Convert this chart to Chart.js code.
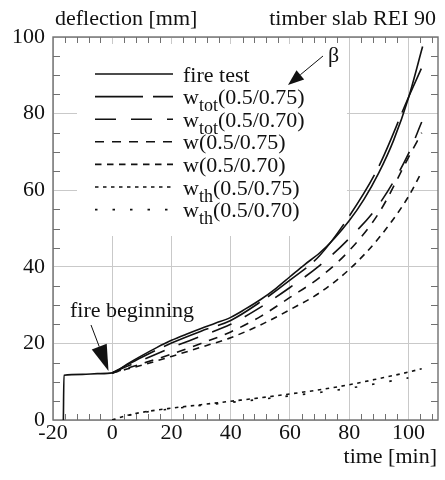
<!DOCTYPE html>
<html>
<head>
<meta charset="utf-8">
<script src="https://cdn.jsdelivr.net/npm/chart.js@4.4.1/dist/chart.umd.min.js"></script>
<style>
  html, body { margin: 0; padding: 0; background: #fff; }
  canvas { display: block; }
</style>
</head>
<body>
<canvas id="myChart" width="445" height="480"></canvas>
<script>
// fire test measurement: time [min] and deflection [mm]
const fireTime = [-16.5, -16.3, -10, -5, 0, 5, 10, 15, 20, 25, 30, 35, 40, 45, 50, 55, 60, 65, 70, 75, 80, 85, 90, 95, 100, 104.8];
const fireDefl = [0, 11.7, 11.9, 12.1, 12.3, 14.6, 16.8, 18.9, 20.8, 22.4, 23.9, 25.3, 26.8, 29.0, 31.4, 34.2, 37.4, 40.6, 43.6, 47.4, 52.0, 57.6, 64.5, 73.0, 84.0, 97.5];

// calculated curves, all on the same time grid
const modelTime = [0, 5, 10, 20, 30, 40, 50, 60, 70, 80, 90, 100, 104.5];
const wTot075 = [12.3, 14.4, 16.4, 20.1, 23.2, 26.0, 30.8, 36.5, 42.9, 53.2, 66.2, 84.2, 92.0];
const wTot070 = [12.3, 14.0, 15.6, 18.9, 21.9, 25.0, 29.4, 34.6, 40.3, 47.4, 56.2, 69.5, 77.8];
const w075 = [12.3, 13.5, 14.7, 17.2, 20.0, 23.0, 27.0, 32.0, 37.2, 44.2, 54.0, 68.5, 75.0];
const w070 = [12.3, 13.3, 14.3, 16.6, 19.0, 21.5, 24.8, 28.8, 33.2, 39.3, 47.5, 58.3, 64.8];
const wTh075 = [0, 1.2, 2.0, 3.1, 4.0, 4.9, 5.8, 6.8, 7.9, 9.2, 10.8, 12.5, 13.4];
const wTh070 = [0, 1.1, 1.9, 2.9, 3.8, 4.6, 5.4, 6.3, 7.2, 8.3, 9.6, 11.0, null];

// axis ticks and texts
const xTicks = [-20, 0, 20, 40, 60, 80, 100];
const yTicks = [0, 20, 40, 60, 80, 100];
const yTitle = 'deflection [mm]';
const xTitle = 'time [min]';
const plotTitle = 'timber slab REI 90';
const fireNote = 'fire beginning';
const betaNote = 'β';

// legend labels: [main, subscript, rest]
const seriesLabels = [
    ['fire test', '', ''],
    ['w', 'tot', '(0.5/0.75)'],
    ['w', 'tot', '(0.5/0.70)'],
    ['w', '', '(0.5/0.75)'],
    ['w', '', '(0.5/0.70)'],
    ['w', 'th', '(0.5/0.75)'],
    ['w', 'th', '(0.5/0.70)']
];

const FONT = '"Liberation Serif", "DejaVu Serif", serif';
const INK = '#111';

function toPoints(xs, ys) {
    return xs.map((x, i) => ({ x: x, y: ys[i] }));
}

function makeSet(label, xs, ys, dash) {
    return {
        label: label,
        data: toPoints(xs, ys),
        borderColor: INK,
        borderWidth: 1.6,
        borderDash: dash,
        pointRadius: 0,
        fill: false,
        cubicInterpolationMode: 'monotone',
        spanGaps: false
    };
}

// draws an arrow with a filled head
function arrow(ctx, x1, y1, x2, y2, headLen, headHalf) {
    const dx = x2 - x1, dy = y2 - y1;
    const len = Math.sqrt(dx * dx + dy * dy);
    const ux = dx / len, uy = dy / len;
    const bx = x2 - ux * headLen, by = y2 - uy * headLen;
    ctx.beginPath();
    ctx.moveTo(x1, y1);
    ctx.lineTo(bx, by);
    ctx.stroke();
    ctx.beginPath();
    ctx.moveTo(x2, y2);
    ctx.lineTo(bx - uy * headHalf, by + ux * headHalf);
    ctx.lineTo(bx + uy * headHalf, by - ux * headHalf);
    ctx.closePath();
    ctx.fill();
}

// white legend box, frame and small inner ticks
const framePlugin = {
    id: 'frame',
    beforeDatasetsDraw(chart) {
        const ctx = chart.ctx;
        const a = chart.chartArea;
        const xs = chart.scales.x, ys = chart.scales.y;
        ctx.save();
        ctx.fillStyle = '#fff';
        ctx.fillRect(77, 44, 270, 192);

        ctx.strokeStyle = '#707070';
        ctx.lineWidth = 1;
        ctx.beginPath();
        for (let t = -20; t <= 110; t += 4) {
            if (t % 20 === 0) continue;
            const px = Math.round(xs.getPixelForValue(t)) + 0.5;
            ctx.moveTo(px, a.bottom);
            ctx.lineTo(px, a.bottom - 6);
            ctx.moveTo(px, a.top);
            ctx.lineTo(px, a.top + 6);
        }
        for (let v = 0; v <= 100; v += 5) {
            if (v % 20 === 0) continue;
            const py = Math.round(ys.getPixelForValue(v)) + 0.5;
            ctx.moveTo(a.left, py);
            ctx.lineTo(a.left + 7, py);
            ctx.moveTo(a.right, py);
            ctx.lineTo(a.right - 7, py);
        }
        ctx.stroke();

        ctx.lineWidth = 1.4;
        ctx.strokeRect(a.left, a.top, a.right - a.left, a.bottom - a.top);
        ctx.restore();
    },
    afterDatasetsDraw(chart) {
        const ctx = chart.ctx;
        ctx.save();
        ctx.fillStyle = INK;
        ctx.strokeStyle = INK;

        // legend
        chart.data.datasets.forEach((ds, i) => {
            const yLine = 74 + i * 22.6;
            ctx.lineWidth = ds.borderWidth;
            ctx.setLineDash(ds.borderDash);
            ctx.beginPath();
            ctx.moveTo(95, yLine);
            ctx.lineTo(173, yLine);
            ctx.stroke();
            ctx.setLineDash([]);

            const lab = seriesLabels[i];
            const base = yLine + 7.5;
            let x = 183;
            ctx.textAlign = 'left';
            ctx.textBaseline = 'alphabetic';
            ctx.font = '22px ' + FONT;
            ctx.fillText(lab[0], x, base);
            x += ctx.measureText(lab[0]).width;
            if (lab[1]) {
                ctx.font = '18px ' + FONT;
                ctx.fillText(lab[1], x, base + 7);
                x += ctx.measureText(lab[1]).width;
            }
            ctx.font = '22px ' + FONT;
            ctx.fillText(lab[2], x, base);
        });

        // titles
        ctx.font = '22px ' + FONT;
        ctx.textBaseline = 'alphabetic';
        ctx.textAlign = 'left';
        ctx.fillText(yTitle, 55, 25);
        ctx.textAlign = 'right';
        ctx.fillText(plotTitle, 436, 25);
        ctx.fillText(xTitle, 437, 463);

        // notes with arrows
        ctx.textAlign = 'left';
        ctx.fillText(fireNote, 70, 317);
        ctx.fillText(betaNote, 328, 62);
        ctx.lineWidth = 1;
        arrow(ctx, 91, 325, 108.5, 371, 26, 8);
        arrow(ctx, 323, 56, 288, 85, 16, 6);
        ctx.restore();
    }
};

function renderChart() {
    const ctx = document.getElementById('myChart').getContext('2d');
    const tickFont = { family: FONT, size: 22 };

    new Chart(ctx, {
        type: 'line',
        data: {
            datasets: [
                makeSet('fire test', fireTime, fireDefl, []),
                makeSet('wtot(0.5/0.75)', modelTime, wTot075, [48, 10]),
                makeSet('wtot(0.5/0.70)', modelTime, wTot070, [21, 15]),
                makeSet('w(0.5/0.75)', modelTime, w075, [9, 8]),
                makeSet('w(0.5/0.70)', modelTime, w070, [6.5, 5.5]),
                makeSet('wth(0.5/0.75)', modelTime, wTh075, [3.5, 4.5]),
                makeSet('wth(0.5/0.70)', modelTime, wTh070, [2.5, 15])
            ]
        },
        options: {
            responsive: false,
            animation: false,
            devicePixelRatio: 1,
            layout: { padding: { top: 37, right: 7, left: 0, bottom: 0 } },
            scales: {
                x: {
                    type: 'linear',
                    min: -20,
                    max: 110,
                    afterBuildTicks: s => { s.ticks = xTicks.map(v => ({ value: v })); },
                    afterFit: s => { s.height = 60; },
                    ticks: { font: tickFont, color: INK, padding: 0, maxRotation: 0, autoSkip: false },
                    grid: { color: '#c9c9c9', lineWidth: 1, drawTicks: false },
                    border: { display: false }
                },
                y: {
                    type: 'linear',
                    min: 0,
                    max: 100,
                    afterBuildTicks: s => { s.ticks = yTicks.map(v => ({ value: v })); },
                    afterFit: s => { s.width = 53; },
                    ticks: { font: tickFont, color: INK, padding: 8, autoSkip: false },
                    grid: { color: '#c9c9c9', lineWidth: 1, drawTicks: false },
                    border: { display: false }
                }
            },
            plugins: {
                legend: { display: false },
                tooltip: { enabled: false }
            }
        },
        plugins: [framePlugin]
    });
}

window.onload = renderChart;
</script>
</body>
</html>
